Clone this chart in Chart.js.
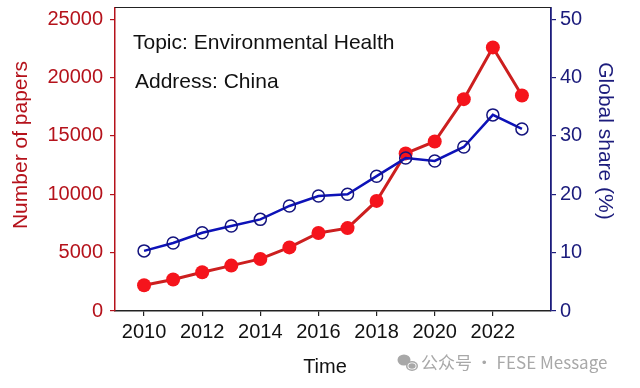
<!DOCTYPE html>
<html>
<head>
<meta charset="utf-8">
<script src="https://cdn.jsdelivr.net/npm/chart.js@4/dist/chart.umd.min.js"></script>
<style>
html,body{margin:0;padding:0;background:#fff;}
#wrap{width:640px;height:388px;position:relative;}
</style>
</head>
<body>
<div id="wrap"><canvas id="c" width="640" height="388"></canvas></div>
<script>
const years = [2010,2011,2012,2013,2014,2015,2016,2017,2018,2019,2020,2021,2022,2023];
const papers = [2200,2700,3320,3890,4460,5450,6680,7100,9430,13500,14520,18150,22580,18460];
const share = [10.3,11.65,13.4,14.55,15.7,18.0,19.7,20.0,23.1,26.2,25.7,28.1,33.6,31.2];
const xTicks = [2010,2012,2014,2016,2018,2020,2022];
const leftTicks = [0,5000,10000,15000,20000,25000];
const rightTicks = [0,10,20,30,40,50];
const annotations = ["Topic: Environmental Health","Address: China"];
const leftTitle = "Number of papers";
const rightTitle = "Global share (%)";
const xTitle = "Time";
const watermark = "公众号 · FESE Message";

const RED_AX = '#b5121b';
const NAVY = '#1c1c7c';
const FONT = '"Liberation Sans", Arial, sans-serif';

const extras = {
  id:'extras',
  afterDraw(chart){
    const ctx = chart.ctx, a = chart.chartArea;
    ctx.save();
    // top border
    ctx.strokeStyle = '#222'; ctx.lineWidth = 1.2;
    ctx.beginPath(); ctx.moveTo(a.left, a.top); ctx.lineTo(a.right, a.top); ctx.stroke();
    // annotations
    ctx.fillStyle = '#111'; ctx.font = '21px ' + FONT; ctx.textBaseline = 'middle'; ctx.textAlign='left';
    ctx.fillText(annotations[0], 133, 43);
    ctx.fillText(annotations[1], 135, 82);
    // left title
    ctx.save(); ctx.translate(21, 145); ctx.rotate(-Math.PI/2);
    ctx.fillStyle = RED_AX; ctx.font = '21px ' + FONT; ctx.textAlign='center';
    ctx.fillText(leftTitle, 0, 0); ctx.restore();
    // right title
    ctx.save(); ctx.translate(605, 141); ctx.rotate(Math.PI/2);
    ctx.fillStyle = NAVY; ctx.font = '21px ' + FONT; ctx.textAlign='center';
    ctx.fillText(rightTitle, 0, 0); ctx.restore();
    // x title
    ctx.fillStyle = '#111'; ctx.font = '20px ' + FONT; ctx.textAlign='center';
    ctx.fillText(xTitle, 325, 367);
    // watermark
    ctx.fillStyle = '#a8a8a8';
    ctx.beginPath(); ctx.ellipse(404, 360, 6.5, 5.5, 0, 0, Math.PI*2); ctx.fill();
    ctx.beginPath(); ctx.ellipse(412, 366, 6, 5, 0, 0, Math.PI*2); ctx.fill();
    ctx.fillStyle = '#fff';
    ctx.beginPath(); ctx.ellipse(412, 366, 4.5, 3.6, 0, 0, Math.PI*2); ctx.fill();
    ctx.fillStyle = '#a8a8a8';
    ctx.beginPath(); ctx.ellipse(412, 366, 3.6, 2.8, 0, 0, Math.PI*2); ctx.fill();
    ctx.font = '17px "Noto Sans CJK SC", sans-serif'; ctx.textAlign='left';
    ctx.fillText(watermark, 421, 363);
    ctx.restore();
  }
};

function noPadV(s){ s.paddingTop = 0; s.paddingBottom = 0; }

new Chart(document.getElementById('c'), {
  type:'line',
  data:{
    datasets:[
      {
        label:'Global share', yAxisID:'y1',
        data: years.map((y,i)=>({x:y, y:share[i]})),
        borderColor:'#0d12b8', borderWidth:2.5,
        pointRadius:6, pointBorderWidth:1.5, pointBackgroundColor:'rgba(255,255,255,0)',
        pointBorderColor:'#14147e', tension:0
      },
      {
        label:'Number of papers', yAxisID:'y',
        data: years.map((y,i)=>({x:y, y:papers[i]})),
        borderColor:'#cc1f1f', borderWidth:3,
        pointRadius:7, pointBorderWidth:0, pointBackgroundColor:'#f5141c',
        pointBorderColor:'#f5141c', tension:0
      }
    ]
  },
  options:{
    responsive:false, animation:false,
    layout:{padding:{top:6,left:0,right:0,bottom:0}},
    plugins:{legend:{display:false}, tooltip:{enabled:false}},
    scales:{
      x:{
        type:'linear', min:2009, max:2024,
        afterBuildTicks(s){ s.ticks = xTicks.map(v=>({value:v})); },
        afterFit(s){ s.height = 77; s.paddingLeft = 0; s.paddingRight = 0; },
        ticks:{ color:'#111', font:{family:FONT,size:20}, padding:4, maxRotation:0, autoSkip:false, callback:v=>String(v) },
        grid:{ drawOnChartArea:false, drawTicks:true, tickLength:5, color:'#222', lineWidth:1.2 },
        border:{ display:true, color:'#222', width:1.5 }
      },
      y:{
        position:'left', min:0, max:26000,
        afterBuildTicks(s){ s.ticks = leftTicks.map(v=>({value:v})); },
        afterFit(s){ s.width = 115; noPadV(s); },
        ticks:{ color:RED_AX, font:{family:FONT,size:20}, padding:7, callback:v=>String(v) },
        grid:{ drawOnChartArea:false, drawTicks:true, tickLength:5, color:RED_AX, lineWidth:1.2 },
        border:{ display:true, color:RED_AX, width:1.5 }
      },
      y1:{
        position:'right', min:0, max:52,
        afterBuildTicks(s){ s.ticks = rightTicks.map(v=>({value:v})); },
        afterFit(s){ s.width = 89; noPadV(s); },
        ticks:{ color:NAVY, font:{family:FONT,size:20}, padding:4, callback:v=>String(v) },
        grid:{ drawOnChartArea:false, drawTicks:true, tickLength:5, color:NAVY, lineWidth:1.2 },
        border:{ display:true, color:NAVY, width:1.8 }
      }
    }
  },
  plugins:[extras]
});
</script>
</body>
</html>
